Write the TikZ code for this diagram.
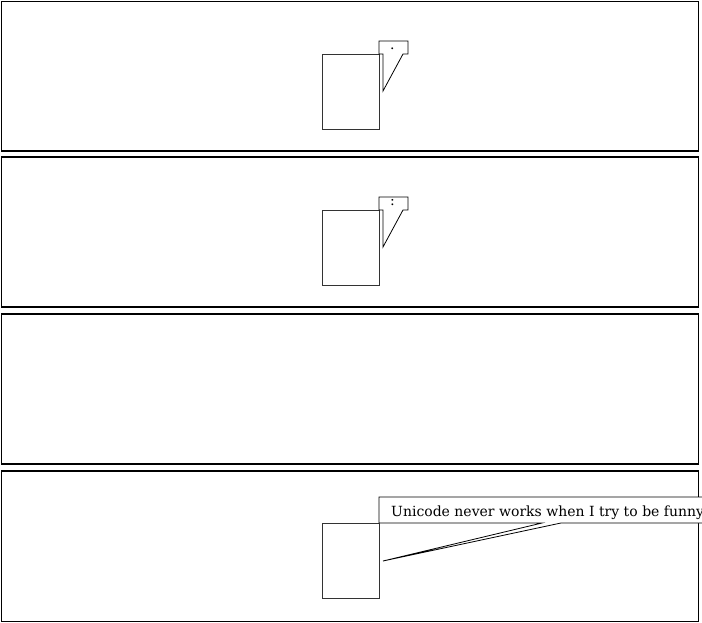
\documentclass[tikz,border=0pt]{standalone}
\usepackage{fontspec}
\setmainfont{DejaVu Serif}
\begin{document}
\begin{tikzpicture}[x=1pt,y=-1pt,
  panel/.style={draw=black,line width=1.2pt},
  person/.style={draw=black!80,line width=0.9pt},
  bubble/.style={draw=black,fill=white,line width=0.8pt,line join=miter},
  speech/.style={font=\fontsize{14}{16}\selectfont,inner sep=0pt,anchor=base west}]
\useasboundingbox (0,0) rectangle (702,623);
\clip (0,0) rectangle (702,623);
% panels
\draw[panel] (1.5,1.5) rectangle (698.5,151);
\draw[panel] (1.5,157) rectangle (698.5,307);
\draw[panel] (1.5,314) rectangle (698.5,464);
\draw[panel] (1.5,471) rectangle (698.5,621.5);
% panel 1
\draw[person] (322,54) rectangle (379,129);
\draw[bubble] (383,91) -- (383,54) -- (379,54) -- (379,41) -- (408,41) -- (408,54) -- (403,54) -- cycle;
\node[speech] (t1) at (390,50) {.};
% panel 2
\draw[person] (322,210) rectangle (379,285);
\draw[bubble] (383,247) -- (383,210) -- (379,210) -- (379,197) -- (408,197) -- (408,210) -- (403,210) -- cycle;
\node[speech] (t2) at (390,206) {:};
% panel 4
\draw[person] (322,523) rectangle (379,598);
\draw[bubble] (383,561) -- (542,523) -- (379,523) -- (379,497) -- (720,497) -- (720,523) -- (561,523) -- cycle;
\node[speech] (t4) at (391,516) {Unicode never works when I try to be funny};
\end{tikzpicture}
\end{document}
